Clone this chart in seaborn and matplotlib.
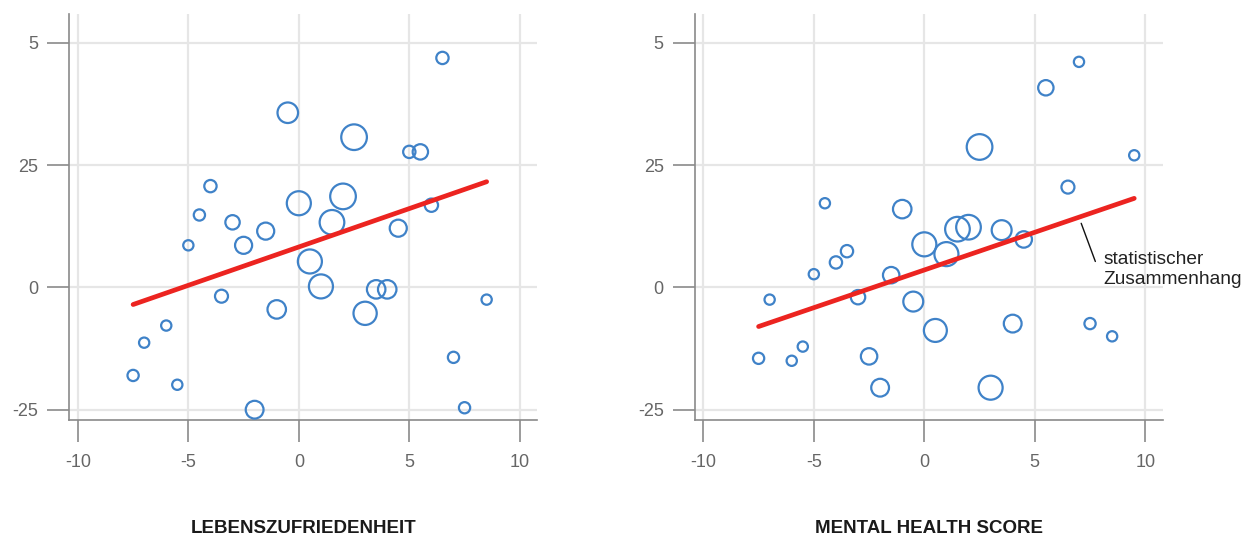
import numpy as np
import pandas as pd
import matplotlib
matplotlib.use("Agg")
import matplotlib.pyplot as plt
import seaborn as sns

# Panel 1: Lebenszufriedenheit
x_leben = [-7.5, -7, -6, -5.5, -5, -4.5, -4, -3.5, -3, -2.5, -2, -1.5, -1, -0.5, 0,
           0.5, 1, 1.5, 2, 2.5, 3, 3.5, 4, 4.5, 5, 5.5, 6, 6.5, 7, 7.5, 8.5]
y_leben = [-18.0, -11.3, -7.8, -19.9, 8.6, 14.8, 20.7, -1.8, 13.3, 8.6, -25.0, 11.5, -4.5, 35.7, 17.2,
           5.3, 0.2, 13.3, 18.6, 30.7, -5.3, -0.4, -0.4, 12.1, 27.7, 27.7, 16.8, 46.9, -14.3, -24.6, -2.5]
w_leben = [3.0, 2.5, 2.5, 2.5, 2.5, 3.0, 3.6, 4.0, 4.9, 6.9, 7.5, 6.9, 8.1, 10.0, 13.7,
           13.7, 13.7, 14.4, 15.6, 15.6, 12.8, 8.1, 8.1, 6.9, 3.6, 5.6, 4.2, 3.6, 3.0, 3.0, 2.5]
trend_leben_x = [-7.5, 8.5]
trend_leben_y = [-3.5, 21.6]

# Panel 2: Mental Health Score
x_mental = [-7.5, -7, -6, -5.5, -5, -4.5, -4, -3.5, -3, -2.5, -2, -1.5, -1, -0.5, 0,
            0.5, 1, 1.5, 2, 2.5, 3, 3.5, 4, 4.5, 5.5, 6.5, 7, 7.5, 8.5, 9.5]
y_mental = [-14.5, -2.5, -15.0, -12.1, 2.7, 17.2, 5.1, 7.4, -2.0, -14.1, -20.5, 2.5, 16.0, -2.9, 8.8,
            -8.8, 6.8, 11.9, 12.3, 28.7, -20.5, 11.7, -7.4, 9.8, 40.8, 20.5, 46.1, -7.4, -10.0, 27.0]
w_mental = [3.0, 2.5, 2.5, 2.5, 2.5, 2.5, 3.6, 3.6, 4.9, 6.4, 7.5, 6.4, 8.1, 9.4, 13.7,
            12.5, 13.7, 14.4, 14.4, 15.6, 13.7, 9.4, 7.5, 6.4, 5.6, 4.0, 2.5, 3.0, 2.5, 2.5]
trend_mental_x = [-7.5, 9.5]
trend_mental_y = [-8.0, 18.2]

x_ticks = [-10, -5, 0, 5, 10]
y_ticks = [50, 25, 0, -25]
y_labels = ["5", "25", "0", "-25"]
titles = ["LEBENSZUFRIEDENHEIT", "MENTAL HEALTH SCORE"]

BLUE = "#3f82c8"
RED = "#ec2420"
GREY = "#8a8a8a"

sns.set_theme(style="whitegrid")
plt.rcParams["font.family"] = ["Liberation Sans", "DejaVu Sans"]

fig = plt.figure(figsize=(12.45, 5.35), dpi=100)
positions = [[0.0558, 0.215, 0.3759, 0.759], [0.5582, 0.215, 0.3759, 0.759]]

panels = [
    (x_leben, y_leben, w_leben, trend_leben_x, trend_leben_y),
    (x_mental, y_mental, w_mental, trend_mental_x, trend_mental_y),
]

for i, (xs, ys, ws, tx, ty) in enumerate(panels):
    ax = fig.add_axes(positions[i])
    df = pd.DataFrame({"x": xs, "y": ys, "w": ws})
    sns.scatterplot(data=df, x="x", y="y", size="w", sizes=(0, 350), size_norm=(0, 16),
                    facecolors="none", edgecolor=BLUE, linewidth=1.6, legend=False, ax=ax, zorder=3)
    sns.lineplot(x=tx, y=ty, color=RED, linewidth=3.4, ax=ax, zorder=4)

    ax.set_xlim(-10.38, 10.8)
    ax.set_ylim(-27.1, 55.9)
    ax.set_xticks(x_ticks)
    ax.set_xticklabels([str(t) for t in x_ticks])
    ax.set_yticks(y_ticks)
    ax.set_yticklabels(y_labels)
    ax.set_xlabel("")
    ax.set_ylabel("")
    ax.grid(True, color="#e6e6e6", linewidth=1.6)
    ax.set_facecolor("white")
    for side in ["top", "right"]:
        ax.spines[side].set_visible(False)
    for side in ["left", "bottom"]:
        ax.spines[side].set_color(GREY)
        ax.spines[side].set_linewidth(1.2)
    ax.tick_params(axis="both", direction="out", length=16, width=1.2, color=GREY,
                   labelcolor="#666666", labelsize=13, left=True, bottom=True)
    ax.tick_params(axis="y", pad=6.5)
    ax.tick_params(axis="x", pad=8.5)

    cx = positions[i][0] + positions[i][2] / 2
    fig.text(cx, 0.013, titles[i], ha="center", va="center", fontsize=13.5,
             fontweight="bold", color="#1a1a1a")

    if i == 1:
        ax.plot([7.1, 7.74], [13.1, 5.3], color="#111111", linewidth=1.0, zorder=5)
        ax.text(8.1, 3.6, "statistischer\nZusammenhang", ha="left", va="center",
                fontsize=13.8, color="#222222", linespacing=1.25, clip_on=False)

fig.savefig("out.png", dpi=100, facecolor="white")
